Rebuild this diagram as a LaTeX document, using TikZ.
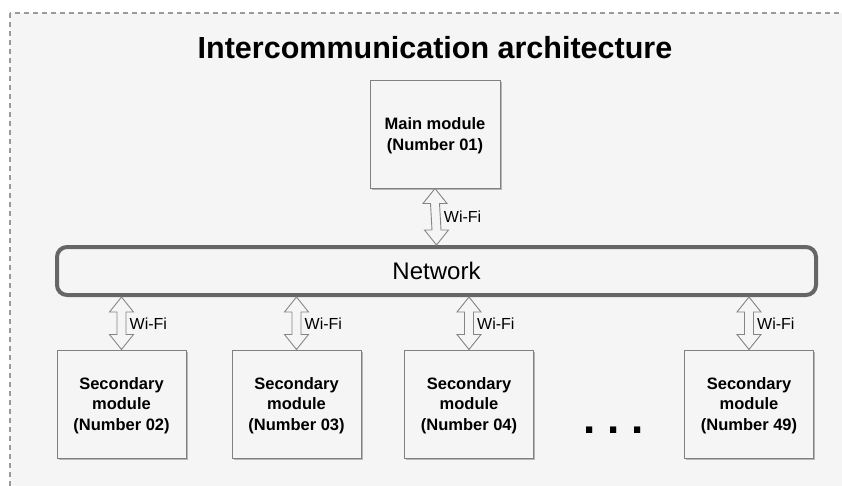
\documentclass[tikz,border=0pt]{standalone}
\usepackage{fontspec}
\setmainfont{Liberation Sans}
\usetikzlibrary{calc,shadows}
\definecolor{canvas}{HTML}{F5F5F5}
\definecolor{frameline}{HTML}{9A9A9A}
\definecolor{boxline}{HTML}{808080}
\definecolor{netline}{HTML}{666666}
\tikzset{
  module/.style={draw=boxline, line width=1pt, fill=canvas,
    minimum width=129pt, minimum height=108pt, align=center,
    text depth=0pt,
    font=\bfseries\fontsize{16.5}{20.5}\selectfont,
    drop shadow={shadow xshift=1.5pt, shadow yshift=-1.5pt,
      fill=black, opacity=0.25}},
  network/.style={draw=netline, line width=4pt, fill=canvas,
    rounded corners=10pt, minimum width=759pt, minimum height=48pt,
    font=\fontsize{24}{28}\selectfont},
  arrowbody/.style={draw=netline!80, line width=0.9pt, fill=canvas,
    line join=miter},
  wifi/.style={font=\fontsize{16}{18}\selectfont, anchor=west, inner sep=0pt},
}
% hollow double arrow between two anchors (top anchor first)
\newcommand{\wifilink}[3]{%
  \draw[arrowbody] (#1) -- ($(#1)+(12,15)$) -- ($(#1)+(4.5,15)$)
    -- ($(#2)+(4.5,-15)$) -- ($(#2)+(12,-15)$) -- (#2)
    -- ($(#2)+(-12,-15)$) -- ($(#2)+(-4.5,-15)$)
    -- ($(#1)+(-4.5,15)$) -- ($(#1)+(-12,15)$) -- cycle;
  \node[wifi] (#3) at ($($(#1)!0.5!(#2)$)+(8,0)$) {Wi-Fi};}
\begin{document}
\begin{tikzpicture}[x=1pt, y=-1pt]
  \useasboundingbox (0,0) rectangle (842,485);
  \clip (0,0) rectangle (842,485);
  \fill[white] (0,0) rectangle (842,485);
  % dashed outer frame
  \draw[frameline, line width=1.4pt, dash pattern=on 5pt off 4pt, fill=canvas]
    (10,13) rectangle (860,500);

  \node[font=\bfseries\fontsize{30.5}{34}\selectfont] (title) at (435,48)
    {Intercommunication architecture};

  \node[module, minimum width=130pt] (main) at (435,134)
    {Main module\\(Number 01)};

  \node[network] (net) at (436.5,271) {Network};

  \node[module] (s02) at (121.5,404) {Secondary\\module\\(Number 02)};
  \node[module] (s03) at (296.5,404) {Secondary\\module\\(Number 03)};
  \node[module] (s04) at (469,404)   {Secondary\\module\\(Number 04)};
  \node[module] (s49) at (749,404)   {Secondary\\module\\(Number 49)};

  \node[font=\bfseries\fontsize{44}{44}\selectfont, inner sep=0pt]
    (dots) at (613.5,430) {.\hspace{11.5pt}.\hspace{11.5pt}.};

  \wifilink{main.south}{net.north}{w01}
  \wifilink{s02.north |- net.south}{s02.north}{w02}
  \wifilink{s03.north |- net.south}{s03.north}{w03}
  \wifilink{s04.north |- net.south}{s04.north}{w04}
  \wifilink{s49.north |- net.south}{s49.north}{w49}
\end{tikzpicture}
\end{document}
